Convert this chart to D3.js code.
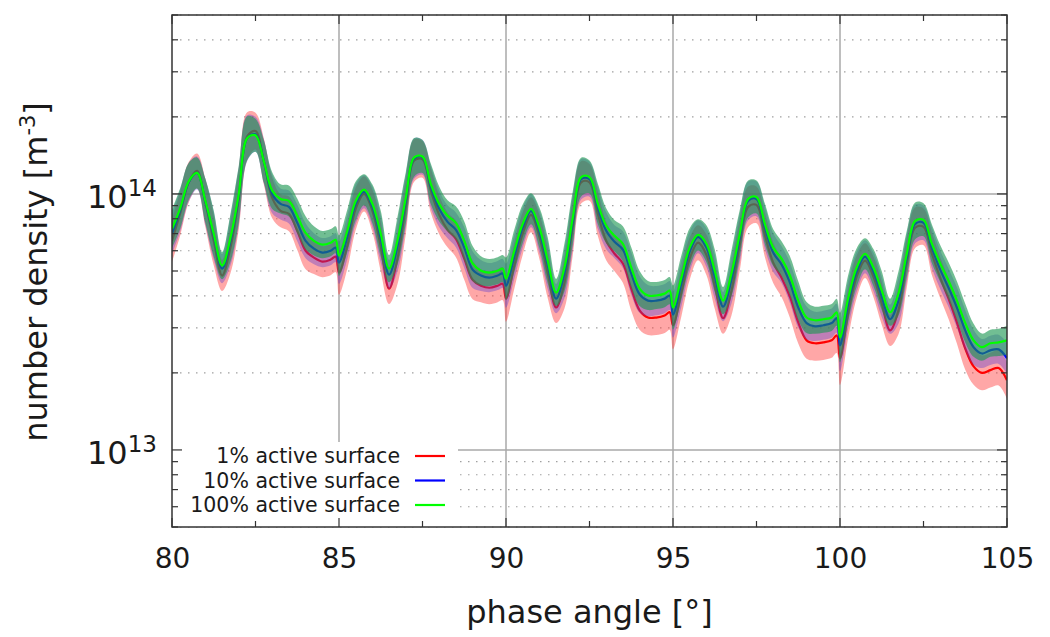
<!DOCTYPE html>
<html>
<head>
<meta charset="utf-8">
<script src="https://d3js.org/d3.v7.min.js"></script>
<style>
  body { margin: 0; background: #fff; }
  text { font-family: "DejaVu Sans", sans-serif; fill: #1a1a1a; }
</style>
</head>
<body>
<div id="chart-area"></div>
<script>
// phase angle [deg]; every 5 deg a new run starts
var phase = [
  80, 80.25, 80.5, 80.75, 81, 81.25, 81.5, 81.75, 82, 82.25, 82.5, 82.75, 83, 83.25, 83.5, 83.75, 84, 84.25, 84.5, 84.75, 84.9,
  85, 85.25, 85.5, 85.75, 86, 86.25, 86.5, 86.75, 87, 87.25, 87.5, 87.75, 88, 88.25, 88.5, 88.75, 89, 89.25, 89.5, 89.75, 89.9,
  90, 90.25, 90.5, 90.75, 91, 91.25, 91.5, 91.75, 92, 92.25, 92.5, 92.75, 93, 93.25, 93.5, 93.75, 94, 94.25, 94.5, 94.75, 94.9,
  95, 95.25, 95.5, 95.75, 96, 96.25, 96.5, 96.75, 97, 97.25, 97.5, 97.75, 98, 98.25, 98.5, 98.75, 99, 99.25, 99.5, 99.75, 99.9,
  100, 100.25, 100.5, 100.75, 101, 101.25, 101.5, 101.75, 102, 102.25, 102.5, 102.75, 103, 103.25, 103.5, 103.75, 104, 104.25, 104.5, 104.75, 105
];

// number density in units of 1e13 m^-3
var dens1 = [
  6.56, 8.44, 11.1, 12.3, 9.22, 6.56, 4.80, 6.17, 9.56, 16.8, 17.6, 13.4, 9.65, 8.59, 8.36, 7.18, 6.00, 5.64, 5.44, 5.54, 5.69,
  4.93, 6.28, 8.75, 10.0, 8.59, 6.22, 4.27, 5.59, 8.90, 13.5, 13.64, 10.3, 8.29, 7.24, 6.68, 5.59, 4.62, 4.38, 4.30, 4.38, 4.46,
  3.90, 5.25, 6.99, 8.29, 6.80, 4.89, 3.60, 4.50, 7.44, 11.1, 11.1, 8.36, 6.56, 5.84, 5.35, 4.27, 3.51, 3.29, 3.29, 3.35, 3.45,
  3.07, 4.12, 5.59, 6.45, 5.79, 4.38, 3.27, 4.19, 6.34, 8.90, 9.06, 6.92, 5.39, 4.71, 3.97, 3.15, 2.68, 2.61, 2.63, 2.68, 2.80,
  2.28, 3.45, 4.75, 5.49, 4.75, 3.73, 2.93, 3.51, 5.39, 7.38, 7.44, 5.84, 4.71, 3.90, 3.15, 2.49, 2.12, 2.00, 2.05, 2.09, 1.87
];
var dens10 = [
  6.99, 8.67, 11.1, 12.08, 9.31, 6.86, 5.11, 6.56, 9.82, 16.5, 17.1, 13.4, 10.0, 9.14, 8.90, 7.71, 6.56, 6.11, 5.90, 6.00, 6.17,
  5.39, 6.80, 9.14, 10.2, 8.90, 6.68, 4.84, 6.22, 9.39, 13.76, 13.9, 10.66, 8.75, 7.78, 7.24, 6.17, 5.06, 4.80, 4.71, 4.80, 4.89,
  4.38, 5.69, 7.38, 8.59, 7.12, 5.25, 3.90, 4.89, 7.78, 11.42, 11.42, 8.82, 7.18, 6.50, 6.06, 4.89, 4.05, 3.83, 3.83, 3.90, 4.01,
  3.38, 4.46, 5.95, 6.80, 6.17, 4.75, 3.63, 4.62, 6.74, 9.39, 9.56, 7.38, 5.90, 5.30, 4.50, 3.60, 3.13, 3.04, 3.07, 3.13, 3.27,
  2.56, 3.73, 4.97, 5.69, 4.97, 3.97, 3.24, 3.83, 5.64, 7.64, 7.71, 6.17, 5.06, 4.30, 3.60, 2.93, 2.52, 2.38, 2.45, 2.47, 2.28
];
var dens100 = [
  7.31, 8.82, 11.2, 12.08, 9.39, 6.99, 5.25, 6.74, 10.0, 16.5, 16.96, 13.4, 10.3, 9.56, 9.39, 8.21, 7.05, 6.56, 6.34, 6.45, 6.62,
  5.74, 7.18, 9.39, 10.39, 9.14, 6.99, 5.11, 6.56, 9.65, 13.9, 14.0, 10.93, 9.14, 8.21, 7.71, 6.56, 5.35, 5.01, 4.93, 5.01, 5.11,
  4.67, 6.00, 7.64, 8.75, 7.38, 5.49, 4.12, 5.16, 8.07, 11.64, 11.64, 9.14, 7.51, 6.86, 6.39, 5.16, 4.27, 4.01, 4.01, 4.08, 4.19,
  3.60, 4.71, 6.17, 6.92, 6.39, 5.01, 3.83, 4.89, 6.99, 9.56, 9.73, 7.64, 6.17, 5.59, 4.80, 3.83, 3.29, 3.21, 3.24, 3.29, 3.45,
  2.75, 3.94, 5.16, 5.84, 5.16, 4.19, 3.45, 4.08, 5.84, 7.85, 7.92, 6.39, 5.35, 4.58, 3.83, 3.13, 2.68, 2.52, 2.61, 2.63, 2.68
];

// spread of the shaded band (factor up / down around each line)
var spread1 = [
  1.21, 1.22, 1.20, 1.17, 1.24, 1.25, 1.15, 1.26, 1.31, 1.24, 1.18, 1.23, 1.20, 1.16, 1.17, 1.19, 1.18, 1.16, 1.15, 1.15, 1.15,
  1.22, 1.23, 1.21, 1.17, 1.21, 1.25, 1.15, 1.26, 1.28, 1.21, 1.18, 1.22, 1.19, 1.17, 1.18, 1.21, 1.19, 1.16, 1.16, 1.16, 1.16,
  1.23, 1.23, 1.21, 1.17, 1.22, 1.25, 1.15, 1.26, 1.29, 1.21, 1.18, 1.22, 1.19, 1.17, 1.19, 1.22, 1.19, 1.17, 1.17, 1.17, 1.17,
  1.24, 1.24, 1.21, 1.17, 1.20, 1.23, 1.15, 1.25, 1.26, 1.20, 1.18, 1.22, 1.20, 1.19, 1.21, 1.21, 1.18, 1.17, 1.17, 1.17, 1.17,
  1.27, 1.25, 1.21, 1.17, 1.20, 1.21, 1.15, 1.24, 1.25, 1.20, 1.18, 1.21, 1.20, 1.20, 1.21, 1.21, 1.18, 1.17, 1.17, 1.17, 1.18
];
var spread10 = [
  1.20, 1.21, 1.19, 1.16, 1.23, 1.24, 1.14, 1.25, 1.30, 1.23, 1.17, 1.22, 1.19, 1.15, 1.16, 1.18, 1.17, 1.15, 1.14, 1.14, 1.14,
  1.21, 1.22, 1.20, 1.16, 1.20, 1.24, 1.14, 1.25, 1.27, 1.20, 1.17, 1.21, 1.18, 1.16, 1.17, 1.20, 1.18, 1.15, 1.14, 1.14, 1.14,
  1.22, 1.22, 1.20, 1.16, 1.21, 1.24, 1.14, 1.25, 1.28, 1.20, 1.17, 1.21, 1.18, 1.16, 1.18, 1.21, 1.18, 1.15, 1.14, 1.14, 1.14,
  1.23, 1.23, 1.20, 1.16, 1.19, 1.22, 1.14, 1.24, 1.25, 1.19, 1.17, 1.21, 1.19, 1.18, 1.20, 1.20, 1.16, 1.14, 1.14, 1.14, 1.14,
  1.26, 1.24, 1.20, 1.16, 1.19, 1.20, 1.14, 1.23, 1.24, 1.19, 1.17, 1.20, 1.19, 1.19, 1.20, 1.20, 1.17, 1.14, 1.14, 1.14, 1.15
];
var spread100 = [
  1.19, 1.20, 1.18, 1.15, 1.22, 1.23, 1.13, 1.24, 1.29, 1.22, 1.16, 1.21, 1.18, 1.14, 1.15, 1.17, 1.16, 1.14, 1.13, 1.13, 1.13,
  1.20, 1.21, 1.19, 1.15, 1.19, 1.23, 1.13, 1.24, 1.26, 1.19, 1.16, 1.20, 1.17, 1.15, 1.16, 1.19, 1.17, 1.14, 1.13, 1.13, 1.13,
  1.21, 1.21, 1.19, 1.15, 1.20, 1.23, 1.13, 1.24, 1.27, 1.19, 1.16, 1.20, 1.17, 1.15, 1.17, 1.20, 1.17, 1.14, 1.13, 1.13, 1.13,
  1.22, 1.22, 1.19, 1.15, 1.18, 1.21, 1.13, 1.23, 1.24, 1.18, 1.16, 1.20, 1.18, 1.17, 1.19, 1.19, 1.15, 1.13, 1.13, 1.13, 1.13,
  1.25, 1.23, 1.19, 1.15, 1.18, 1.19, 1.13, 1.22, 1.23, 1.18, 1.16, 1.19, 1.18, 1.18, 1.19, 1.19, 1.16, 1.13, 1.13, 1.13, 1.14
];

var seriesLabels = ["1% active surface", "10% active surface", "100% active surface"];
var xTicks = [80, 85, 90, 95, 100, 105];
var xMinorTicks = [82.5, 87.5, 92.5, 97.5, 102.5];
var yMajorTicks = [1e13, 1e14];

var margin = { left:172, right:43, top:15, bottom:110 };
var width = 1050 - margin.left - margin.right;
var height = 637 - margin.top - margin.bottom;

var svg = d3.select("#chart-area").append("svg")
  .attr("width", width + margin.left + margin.right)
  .attr("height", height + margin.top + margin.bottom);

var g = svg.append("g")
  .attr("transform", "translate(" + margin.left + "," + margin.top + ")");

// scales
var x = d3.scaleLinear().domain([80, 105]).range([0, width]);
var y = d3.scaleLog().domain([5e12, 5e14]).range([height, 0]);

var yMinorTicks = y.ticks().filter(function(d) {
  return yMajorTicks.indexOf(d) < 0;
});

svg.append("defs").append("clipPath")
  .attr("id", "plot-clip")
  .append("rect")
  .attr("width", width)
  .attr("height", height);

// dotted minor grid
g.selectAll(".minor-grid")
  .data(yMinorTicks)
  .enter()
  .append("line")
  .attr("x1", 0)
  .attr("x2", width)
  .attr("y1", function(d) { return y(d); })
  .attr("y2", function(d) { return y(d); })
  .attr("stroke", "#a0a0a0")
  .attr("stroke-width", 1.2)
  .attr("stroke-dasharray", "1.5,6.5");

// solid major grid
g.selectAll(".major-grid-y")
  .data(yMajorTicks)
  .enter()
  .append("line")
  .attr("x1", 0)
  .attr("x2", width)
  .attr("y1", function(d) { return y(d); })
  .attr("y2", function(d) { return y(d); })
  .attr("stroke", "#a8a8a8")
  .attr("stroke-width", 1.5);

g.selectAll(".major-grid-x")
  .data(xTicks.slice(1, -1))
  .enter()
  .append("line")
  .attr("x1", function(d) { return x(d); })
  .attr("x2", function(d) { return x(d); })
  .attr("y1", 0)
  .attr("y2", height)
  .attr("stroke", "#a8a8a8")
  .attr("stroke-width", 1.5);

// bands and lines
var series = [
  { values: dens1, spread: spread1, band: "#ff3c3c", bandOpacity: 0.45, line: "#ff0000" },
  { values: dens10, spread: spread10, band: "#5a3cd2", bandOpacity: 0.38, line: "#0000ff" },
  { values: dens100, spread: spread100, band: "#1a9650", bandOpacity: 0.62, line: "#00ff00" }
];

var plot = g.append("g").attr("clip-path", "url(#plot-clip)");

series.forEach(function(s) {
  var pts = phase.map(function(p, i) {
    return { p: p, v: s.values[i] * 1e13, k: s.spread[i] };
  });

  var area = d3.area()
    .x(function(d) { return x(d.p); })
    .y0(function(d) { return y(d.v / d.k); })
    .y1(function(d) { return y(d.v * d.k); })
    .curve(d3.curveCatmullRom.alpha(0.5));

  var line = d3.line()
    .x(function(d) { return x(d.p); })
    .y(function(d) { return y(d.v); })
    .curve(d3.curveCatmullRom.alpha(0.5));

  plot.append("path")
    .datum(pts)
    .attr("d", area)
    .attr("fill", s.band)
    .attr("fill-opacity", s.bandOpacity)
    .attr("stroke", "none");

  plot.append("path")
    .datum(pts)
    .attr("d", line)
    .attr("fill", "none")
    .attr("stroke", s.line)
    .attr("stroke-width", 2.2);
});

// legend box
var legend = g.append("g");
legend.append("rect")
  .attr("x", 0)
  .attr("y", 427)
  .attr("width", 286)
  .attr("height", height - 427)
  .attr("fill", "#fff");

legend.selectAll(".legend-text")
  .data(seriesLabels)
  .enter()
  .append("text")
  .attr("x", 228)
  .attr("y", function(d, i) { return 448 + i * 24.5; })
  .attr("text-anchor", "end")
  .attr("font-size", "20.5px")
  .text(function(d) { return d; });

legend.selectAll(".legend-line")
  .data(series)
  .enter()
  .append("line")
  .attr("x1", 243)
  .attr("x2", 273)
  .attr("y1", function(d, i) { return 441 + i * 24.5; })
  .attr("y2", function(d, i) { return 441 + i * 24.5; })
  .attr("stroke", function(d) { return d.line; })
  .attr("stroke-width", 2.2);

// ticks on all four sides
function tickLines(vals, len, side) {
  g.selectAll(".t-" + side + len)
    .data(vals)
    .enter()
    .append("line")
    .attr("x1", function(d) { return side === "b" || side === "t" ? x(d) : (side === "l" ? 0 : width); })
    .attr("x2", function(d) { return side === "b" || side === "t" ? x(d) : (side === "l" ? len : width - len); })
    .attr("y1", function(d) { return side === "l" || side === "r" ? y(d) : (side === "b" ? height : 0); })
    .attr("y2", function(d) { return side === "l" || side === "r" ? y(d) : (side === "b" ? height - len : len); })
    .attr("stroke", "#333")
    .attr("stroke-width", 1.2);
}
tickLines(xTicks, 9, "b");
tickLines(xTicks, 9, "t");
tickLines(xMinorTicks, 6, "b");
tickLines(xMinorTicks, 6, "t");
tickLines(yMajorTicks, 10, "l");
tickLines(yMajorTicks, 10, "r");
tickLines(yMinorTicks, 6, "l");
tickLines(yMinorTicks, 6, "r");

// frame
g.append("rect")
  .attr("width", width)
  .attr("height", height)
  .attr("fill", "none")
  .attr("stroke", "#333")
  .attr("stroke-width", 1.5);

// X Axis labels
var xAxisCall = d3.axisBottom(x)
  .tickValues(xTicks)
  .tickSize(0)
  .tickPadding(21)
  .tickFormat(function(d) { return d; });
var xAxis = g.append("g")
  .attr("transform", "translate(0," + height + ")")
  .call(xAxisCall);
xAxis.select(".domain").remove();
xAxis.selectAll("text")
  .attr("font-size", "28px")
  .attr("font-family", "DejaVu Sans")
  .attr("fill", "#1a1a1a");

// Y tick labels 10^n
var yLab = g.selectAll(".y-label")
  .data(yMajorTicks)
  .enter()
  .append("text")
  .attr("x", -15)
  .attr("y", function(d) { return y(d) + 14; })
  .attr("text-anchor", "end")
  .attr("font-size", "32px");
yLab.append("tspan").text("10");
yLab.append("tspan")
  .attr("dy", -12)
  .attr("font-size", "23px")
  .text(function(d) { return Math.round(Math.log10(d)); });

// X Label
g.append("text")
  .attr("x", width / 2)
  .attr("y", height + 96)
  .attr("font-size", "32px")
  .attr("text-anchor", "middle")
  .text("phase angle [°]");

// Y Label
var yTitle = g.append("text")
  .attr("x", -257)
  .attr("y", -125)
  .attr("font-size", "32px")
  .attr("text-anchor", "middle")
  .attr("transform", "rotate(-90)");
yTitle.append("tspan").text("number density [m");
yTitle.append("tspan").attr("dy", -12).attr("font-size", "21px").text("-3");
yTitle.append("tspan").attr("dy", 12).text("]");
</script>
</body>
</html>
